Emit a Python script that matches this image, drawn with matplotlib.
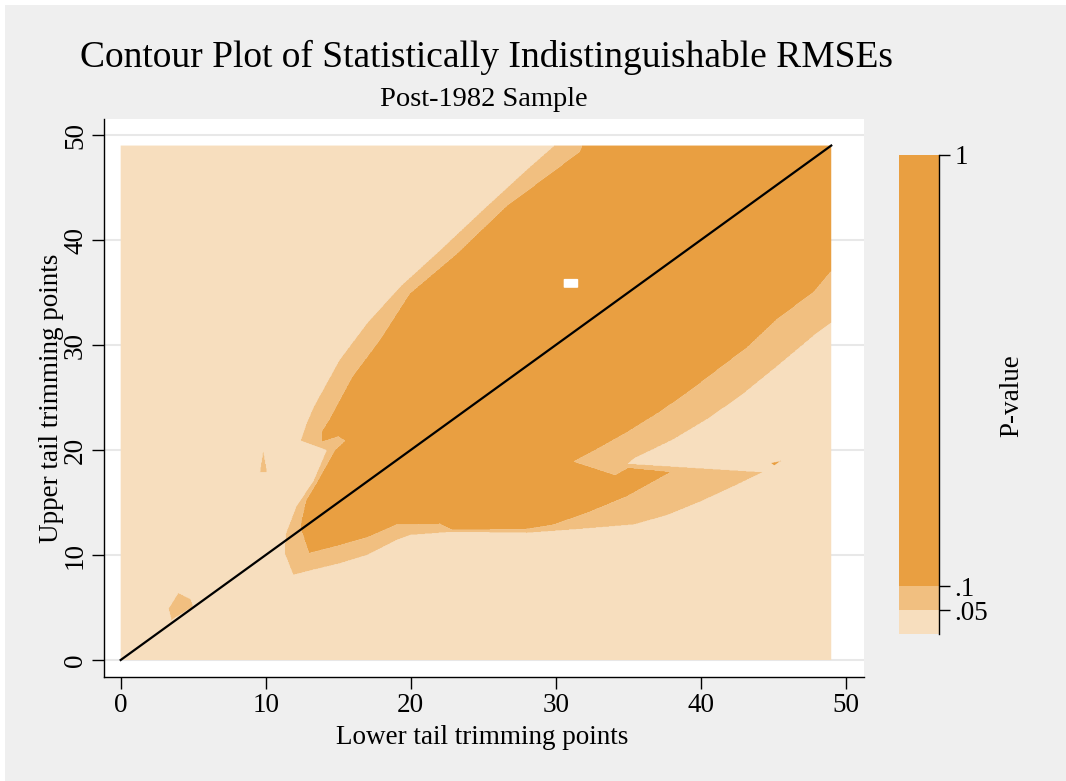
import numpy as np
import matplotlib
matplotlib.use("Agg")
import matplotlib.pyplot as plt
from matplotlib.path import Path
from matplotlib.patches import Rectangle

plt.rcParams['font.family'] = ['Liberation Serif', 'DejaVu Serif']

# ---------------- data ----------------
title = "Contour Plot of Statistically Indistinguishable RMSEs"
subtitle = "Post-1982 Sample"
xlabel = "Lower tail trimming points"
ylabel = "Upper tail trimming points"
cbar_label = "P-value"

grid_min, grid_max = 0, 49          # trimming points on each axis
p_levels = [0, 0.05, 0.1, 1]
p_level_labels = ["", ".05", ".1", "1"]
x_ticks = [0, 10, 20, 30, 40, 50]
y_ticks = [0, 10, 20, 30, 40, 50]

# boundary of the region with p >= .05 (x = lower, y = upper)
region_p05 = [(29.9, 49.5), (49.5, 49.5), (49.5, 32.6), (47.8, 30.9), (45.2, 27.9),
              (42.7, 25.1), (40.4, 22.9), (38.1, 21.0), (35.4, 19.2), (35.0, 18.7),
              (44.3, 17.9), (42.2, 16.5), (40.0, 15.1), (37.7, 13.8), (35.4, 12.9),
              (31.9, 12.5), (28.0, 12.1), (22.9, 12.2), (20.0, 11.9), (19.0, 11.4),
              (17.0, 10.0), (15.1, 9.2), (13.3, 8.6), (11.9, 8.1), (11.3, 10.2),
              (11.4, 12.1), (12.1, 14.6), (13.3, 17.1), (14.2, 20.0), (12.4, 20.9),
              (12.8, 22.5), (13.3, 24.1), (15.1, 28.6), (17.0, 32.1), (19.3, 35.6),
              (22.0, 39.0), (25.0, 42.9), (28.0, 46.7), (29.9, 49.0)]
island_p05_a = [(9.6, 17.9), (9.83, 20.0), (10.1, 17.9)]
island_p05_b = [(3.3, 4.9), (3.97, 6.4), (4.83, 5.8), (5.0, 5.1), (3.5, 3.8)]

# boundary of the region with p >= .1
region_p10 = [(32.0, 49.5), (49.5, 49.5), (49.5, 37.9), (47.8, 35.1), (45.2, 32.4),
              (43.2, 29.8), (41.1, 27.6), (39.0, 25.4), (37.0, 23.5), (34.9, 21.7),
              (33.1, 20.3), (31.2, 18.9), (34.1, 17.6), (35.0, 18.3), (37.9, 17.9),
              (34.9, 15.6), (32.1, 14.0), (29.8, 12.9), (28.0, 12.5), (22.9, 12.4),
              (22.0, 13.0), (19.0, 12.9), (17.0, 11.7), (14.7, 10.8), (13.0, 10.2),
              (12.4, 12.7), (12.8, 15.2), (13.5, 16.8), (14.8, 20.0), (15.5, 20.9),
              (15.0, 21.3), (13.86, 20.8), (13.86, 21.7), (14.4, 22.9), (16.0, 27.0),
              (17.9, 30.5), (19.95, 34.9), (23.2, 38.7), (26.6, 43.2), (31.67, 48.4)]
island_p10 = [(44.9, 18.75), (45.5, 18.95), (45.1, 18.55)]

# cell with missing p-value (x range, y range)
missing_cell_x = (30.6, 31.5)
missing_cell_y = (35.5, 36.3)

# representative p-values inside each band
p_low, p_mid, p_high = 0.02, 0.07, 0.5

# reference line: lower = upper
diag = [0, 49]

colors = ['#F7DEBE', '#F1BF80', '#E99F41']

# ---------------- build p-value surface ----------------
g = np.linspace(grid_min, grid_max, 981)
GX, GY = np.meshgrid(g, g)
pts = np.column_stack([GX.ravel(), GY.ravel()])

def inside(poly):
    return Path(poly).contains_points(pts).reshape(GX.shape)

P = np.full(GX.shape, p_low)
for poly in (region_p05, island_p05_a, island_p05_b):
    P[inside(poly)] = p_mid
for poly in (region_p10, island_p10):
    P[inside(poly)] = p_high
mask = ((GX >= missing_cell_x[0]) & (GX <= missing_cell_x[1]) &
        (GY >= missing_cell_y[0]) & (GY <= missing_cell_y[1]))
P = np.ma.masked_array(P, mask)

# ---------------- figure ----------------
W, H = 1066, 781
fig = plt.figure(figsize=(W / 100, H / 100), dpi=100, facecolor='white')
fig.patches.append(Rectangle((5 / W, 0), 1, 1 - 5 / H, transform=fig.transFigure,
                             facecolor='#EFEFEF', edgecolor='none', zorder=-10))

ax_l, ax_r, ax_t, ax_b = 104, 864.3, 119.3, 676.7
ax = fig.add_axes([ax_l / W, 1 - ax_b / H, (ax_r - ax_l) / W, (ax_b - ax_t) / H])
ax.set_facecolor('white')
ax.set_axisbelow(True)

cf = ax.contourf(GX, GY, P, levels=p_levels, colors=colors, antialiased=True)
ax.plot(diag, diag, color='black', lw=1.6, zorder=3)

ax.set_xlim(-1.15, 51.28)
ax.set_ylim(-1.59, 51.5)
ax.set_xticks(x_ticks)
ax.set_yticks(y_ticks)
ax.grid(axis='y', color='#E8E8E8', lw=1.5)
ax.grid(axis='x', visible=False)
for s in ('top', 'right'):
    ax.spines[s].set_visible(False)
for s in ('left', 'bottom'):
    ax.spines[s].set_linewidth(1.0)
ax.tick_params(direction='out', length=8.5, width=1, labelsize=19.5, pad=3)
for lab in ax.get_yticklabels():
    lab.set_rotation(90)
    lab.set_va('center')

ax.set_xlabel(xlabel, fontsize=19.5)
ax.xaxis.set_label_coords((482 - ax_l) / (ax_r - ax_l), (ax_b - 737) / (ax_b - ax_t))
ax.xaxis.label.set_va('center')
ax.set_ylabel(ylabel, fontsize=19.5)
ax.yaxis.set_label_coords((52 - ax_l) / (ax_r - ax_l), 0.5)
ax.yaxis.label.set_va('center')

fig.text(487 / W, 1 - 57 / H, title, ha='center', va='center', fontsize=27)
fig.text(484 / W, 1 - 100 / H, subtitle, ha='center', va='center', fontsize=20.5)

# colorbar
cax = fig.add_axes([899 / W, 1 - 634 / H, 40 / W, (634 - 155) / H])
cb = fig.colorbar(cf, cax=cax, spacing='proportional', ticks=[0.05, 0.1, 1])
cb.outline.set_visible(False)
cb.ax.set_yticklabels(p_level_labels[1:])
cb.ax.tick_params(direction='out', length=8, width=1, labelsize=19.5, pad=3)
cax.plot([1, 1], [0, 1], transform=cax.transAxes, color='black', lw=1, clip_on=False)
fig.text(1012 / W, 1 - 396 / H, cbar_label, rotation=90, ha='center', va='center', fontsize=19.5)

fig.savefig('out.png', dpi=100, facecolor=fig.get_facecolor())
